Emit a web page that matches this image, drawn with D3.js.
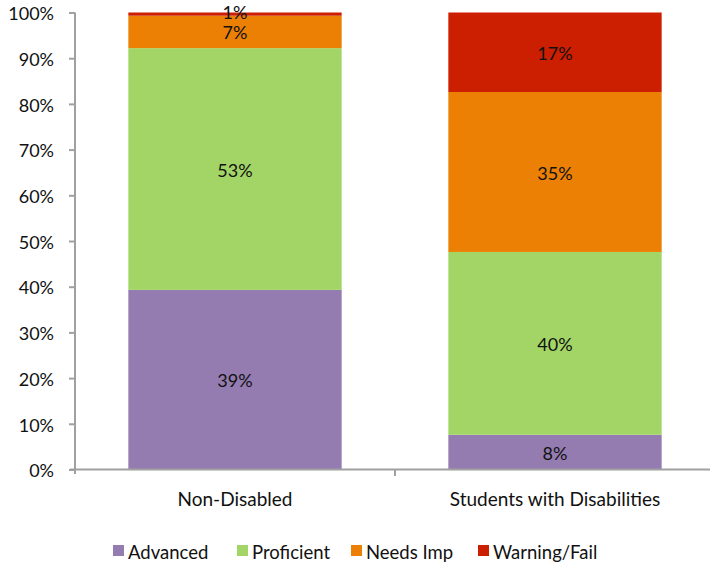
<!DOCTYPE html>
<html>
<head>
<meta charset="utf-8">
<script src="https://cdn.jsdelivr.net/npm/d3@7"></script>
<style>
  body { margin: 0; background: #fff; }
  text { font-family: Lato, "Open Sans", sans-serif; fill: #111; }
</style>
</head>
<body>
<div id="chart"></div>
<script>
// data
var groups = ["Non-Disabled", "Students with Disabilities"];
var levels = ["Advanced", "Proficient", "Needs Imp", "Warning/Fail"];
var advanced   = [39.3, 7.6];
var proficient = [52.9, 40.0];
var needsImp   = [7.1, 35.0];
var warning    = [0.7, 17.4];
var labels = [["39%", "53%", "7%", "1%"], ["8%", "40%", "35%", "17%"]];
var yTicks = [0, 10, 20, 30, 40, 50, 60, 70, 80, 90, 100];
var colors = ['#947cb0', '#a2d566', '#ec8005', '#cc1e00'];

var width = 710, height = 566;

var svg = d3.select('#chart').append('svg')
    .attr('width', width)
    .attr('height', height);

var x = d3.scaleBand()
    .domain(groups)
    .range([75, 715])
    .paddingInner(1 / 3)
    .paddingOuter(1 / 6);

var y = d3.scaleLinear()
    .domain([0, 100])
    .range([469.5, 12.5]);

// build stacked rows
var rows = groups.map(function(g, i) {
    return {
        group: g,
        "Advanced": advanced[i],
        "Proficient": proficient[i],
        "Needs Imp": needsImp[i],
        "Warning/Fail": warning[i]
    };
});
var stacked = d3.stack().keys(levels)(rows);

var layer = svg.selectAll('g.layer')
    .data(stacked).enter()
    .append('g')
    .attr('class', 'layer')
    .attr('fill', (d, i) => colors[i]);

layer.selectAll('rect')
    .data(d => d).enter()
    .append('rect')
    .attr('x', d => x(d.data.group))
    .attr('width', x.bandwidth())
    .attr('y', d => y(d[1]))
    .attr('height', d => y(d[0]) - y(d[1]));

// segment labels (tiny top slice label sits a little higher)
stacked.forEach(function(s, k) {
    svg.selectAll(null)
        .data(s).enter()
        .append('text')
        .attr('x', d => x(d.data.group) + x.bandwidth() / 2)
        .attr('y', function(d) {
            var h = y(d[0]) - y(d[1]);
            return (y(d[0]) + y(d[1])) / 2 + (h < 5 ? 0 : 3);
        })
        .attr('text-anchor', 'middle')
        .attr('dominant-baseline', 'middle')
        .attr('font-size', 18)
        .text((d, i) => labels[i][k]);
});

// axes
var yAxis = d3.axisLeft(y)
    .tickValues(yTicks)
    .tickFormat(d => d + '%')
    .tickSize(6)
    .tickPadding(15);

var yg = svg.append('g')
    .attr('transform', 'translate(75,0)')
    .call(yAxis);
yg.select('.domain').remove();
yg.append('line')
    .attr('x1', 0).attr('x2', 0)
    .attr('y1', 12.5).attr('y2', 474)
    .attr('stroke', '#a0a0a0').attr('stroke-width', 2);
yg.selectAll('.tick line').attr('stroke', '#a0a0a0').attr('stroke-width', 2);
yg.selectAll('.tick text').attr('font-size', 18).attr('fill', '#111')
    .attr('dy', '0.4em')
    .style('font-family', 'Lato, "Open Sans", sans-serif');

var xg = svg.append('g');
xg.append('line')
    .attr('x1', 70).attr('x2', 715)
    .attr('y1', 469.5).attr('y2', 469.5)
    .attr('stroke', '#a0a0a0').attr('stroke-width', 2);
xg.selectAll('line.sep')
    .data([1]).enter()
    .append('line')
    .attr('x1', 395).attr('x2', 395)
    .attr('y1', 469.5).attr('y2', 476)
    .attr('stroke', '#a0a0a0').attr('stroke-width', 2);
xg.selectAll('text')
    .data(groups).enter()
    .append('text')
    .attr('x', d => x(d) + x.bandwidth() / 2)
    .attr('y', 506)
    .attr('text-anchor', 'middle')
    .attr('font-size', 19)
    .text(d => d);

// legend
var legendX = [113, 237, 351, 478];
var legend = svg.selectAll('g.legend')
    .data(levels).enter()
    .append('g')
    .attr('class', 'legend')
    .attr('transform', (d, i) => 'translate(' + legendX[i] + ',545)');
legend.append('rect')
    .attr('width', 11).attr('height', 11)
    .attr('fill', (d, i) => colors[i]);
legend.append('text')
    .attr('x', 15)
    .attr('y', 13.5)
    .attr('font-size', 18.5)
    .text(d => d);
</script>
</body>
</html>
